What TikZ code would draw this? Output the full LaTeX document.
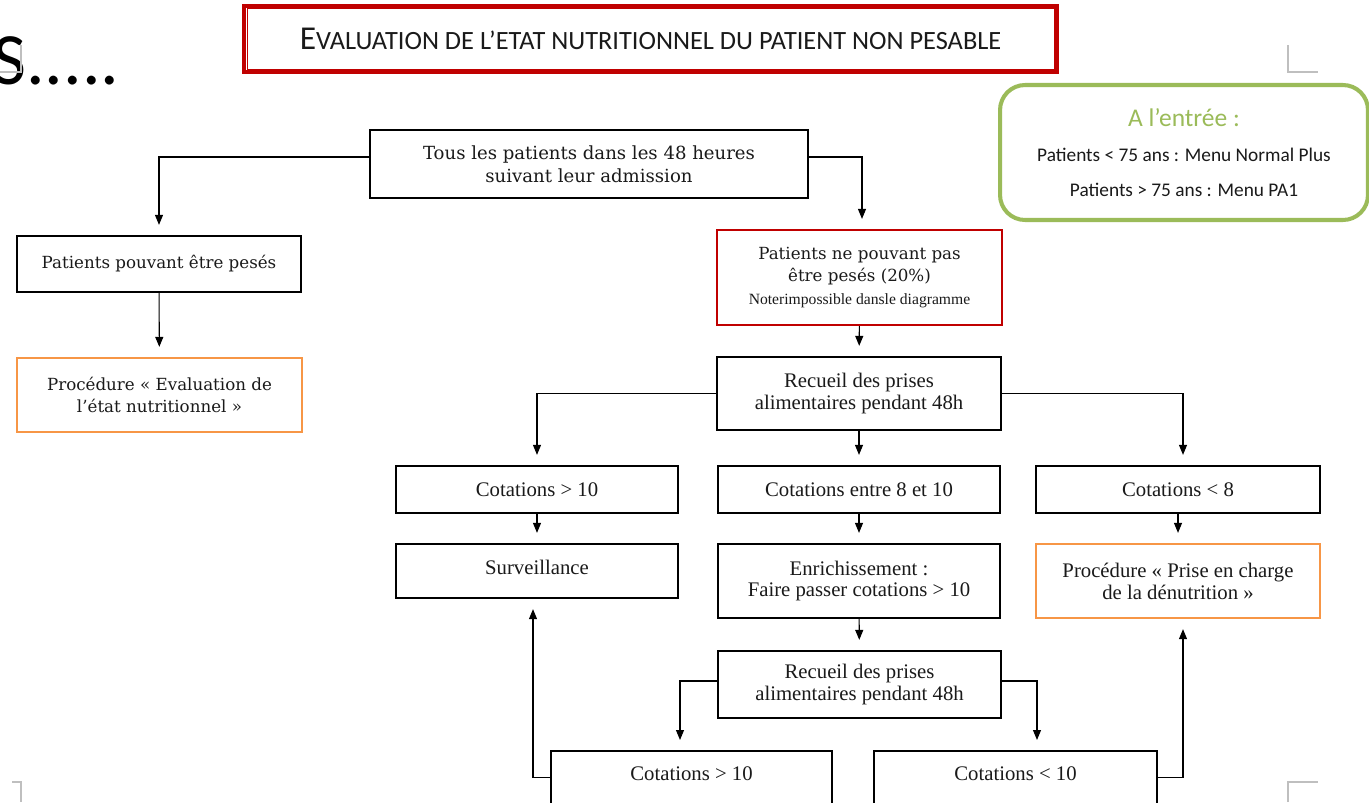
\documentclass[tikz,border=0pt]{standalone}
\usepackage{fontspec}
\setmainfont{Liberation Serif}
\newfontfamily\wideserif{DejaVu Serif}
\newfontfamily\calib{Carlito}
\usetikzlibrary{arrows.meta,positioning,calc}
\definecolor{fcink}{HTML}{1A1A1A}
\definecolor{fcred}{HTML}{C00000}
\definecolor{fcorange}{HTML}{F79646}
\definecolor{fcgreen}{HTML}{9BBB59}
\definecolor{fcmark}{HTML}{BFBFBF}
\tikzset{
  blk/.style={rectangle,draw=black,line width=1.3pt,align=center,
              inner sep=2pt,text=fcink},
  wide/.style={font=\wideserif\fontsize{9.5}{13}\selectfont},
  narrow/.style={font=\fontsize{11.8}{12.5}\selectfont},
  flow/.style={-{Triangle[length=2mm,width=1.6mm]},line width=0.6pt,
               draw=black,shorten >=0.2cm},
  cropline/.style={draw=fcmark,line width=0.8pt},
}

\begin{document}
\begin{tikzpicture}[x=0.02cm,y=-0.02cm,
  cut/.style={blk,narrow,anchor=north,inner ysep=0.2cm,text height=0.38cm,
              text depth=1.5cm,minimum height=0pt}]
  \path[use as bounding box,fill=white] (0,0) rectangle (1369,802);
  \clip (0,0) rectangle (1369,802);

  % page remnants
  \node[anchor=base west,inner sep=0pt,font=\calib\fontsize{42}{42}\selectfont] (slidetxt) at (-8,84) {S.....};
  \draw[cropline] (0,72) -- (21,72) -- (21,45);
  \draw[cropline] (1288,45) -- (1288,72) -- (1318,72);
  \draw[cropline] (12,782) -- (21,782) -- (21,802);
  \draw[cropline] (1288,802) -- (1288,782) -- (1318,782);

  % title
  \node[draw=fcred,line width=2.4pt,minimum width=16.26cm,minimum height=1.32cm,
        text=fcink,font=\calib] (titre) at (650.5,39)
    {\fontsize{19}{19}\selectfont E\fontsize{15}{16}\selectfont VALUATION DE L’ETAT NUTRITIONNEL DU PATIENT NON PESABLE};
  \draw[fcred,line width=0.5pt] ([shift={(5,5)}]titre.north west) rectangle ([shift={(-5,-5)}]titre.south east);

  % note box
  \node[rounded corners=0.5cm,draw=fcgreen,line width=2.3pt,minimum width=7.36cm,
        minimum height=2.7cm,align=center,text=fcink,font=\calib\fontsize{11}{12}\selectfont] (entree) at (1184,152.5)
    {{\color{fcgreen}\fontsize{14.5}{15}\selectfont A l’entrée :}\\[8pt]
     Patients < 75 ans : Menu Normal Plus\\[8pt]
     Patients > 75 ans : Menu PA1};

  % boxes
  \node[blk,wide,font=\wideserif\fontsize{10.3}{13}\selectfont,minimum width=8.76cm,minimum height=1.36cm] (tous) at (589,164)
    {Tous les patients dans les 48 heures\\suivant leur admission};
  \node[blk,wide,minimum width=5.68cm,minimum height=1.12cm] (pesables) at (159,264)
    {Patients pouvant être pesés};
  \node[blk,wide,draw=fcorange,minimum width=5.7cm,minimum height=1.48cm] (evalproc) at (159.5,395)
    {Procédure « Evaluation de\\l’état nutritionnel »};
  \node[blk,wide,draw=fcred,minimum width=5.7cm,minimum height=1.9cm] (nonpes) at (859.5,277.5)
    {Patients ne pouvant pas\\être pesés (20\%)\\{\rmfamily\fontsize{8.9}{10}\selectfont Noterimpossible dansle diagramme}};
  \node[blk,narrow,font=\fontsize{11.8}{13}\selectfont,minimum width=5.68cm,minimum height=1.46cm] (rec1) at (859,393.5)
    {Recueil des prises\\alimentaires pendant 48h};
  \node[blk,narrow,minimum width=5.64cm,minimum height=0.94cm] (cotA) at (537,489.5) {Cotations > 10};
  \node[blk,narrow,minimum width=5.64cm,minimum height=0.94cm] (cotB) at (859,489.5) {Cotations entre 8 et 10};
  \node[blk,narrow,minimum width=5.68cm,minimum height=0.94cm] (cotC) at (1178,489.5) {Cotations < 8};
  \node[blk,narrow,minimum width=5.64cm,minimum height=1.08cm,text depth=0.15cm] (surv) at (537,571) {Surveillance};
  \node[blk,narrow,minimum width=5.64cm,minimum height=1.48cm] (enrich) at (859,581)
    {Enrichissement :\\Faire passer cotations > 10};
  \node[blk,narrow,draw=fcorange,minimum width=5.68cm,minimum height=1.48cm] (procden) at (1178,581)
    {Procédure « Prise en charge\\de la dénutrition »};
  \node[blk,narrow,font=\fontsize{11.8}{13}\selectfont,minimum width=5.66cm,minimum height=1.34cm] (rec2) at (859.5,684.5)
    {Recueil des prises\\alimentaires pendant 48h};
  \node[cut,minimum width=5.62cm] (cotD) at (691.5,750) {Cotations > 10};
  \node[cut,minimum width=5.66cm] (cotE) at (1015.5,750) {Cotations < 10};

  % connectors
  \draw[flow] ([yshift=0.14cm]tous.west) -| (pesables.north);
  \draw[flow] ([yshift=0.14cm]tous.east) -| ([xshift=0.05cm]nonpes.north);
  \draw[flow] (pesables) -- (evalproc);
  \draw[flow] (nonpes) -- (rec1);
  \draw[flow] (rec1.west) -| (cotA.north);
  \draw[flow] (rec1) -- (cotB);
  \draw[flow] (rec1.east) -| ([xshift=0.1cm]cotC.north);
  \draw[flow] (cotA) -- (surv);
  \draw[flow] (cotB) -- (enrich);
  \draw[flow] (cotC) -- (procden);
  \draw[flow] (enrich) -- (rec2);
  \draw[flow] ([yshift=0.07cm]rec2.west) -| ([xshift=-0.23cm]cotD.north);
  \draw[flow] ([yshift=0.07cm]rec2.east) -| ([xshift=0.43cm]cotE.north);
  \draw[flow] ([yshift=0.06cm]cotD.base west) -| ([xshift=-0.08cm]surv.south);
  \draw[flow] ([yshift=0.06cm]cotE.base east) -| ([xshift=0.1cm]procden.south);
\end{tikzpicture}
\end{document}
